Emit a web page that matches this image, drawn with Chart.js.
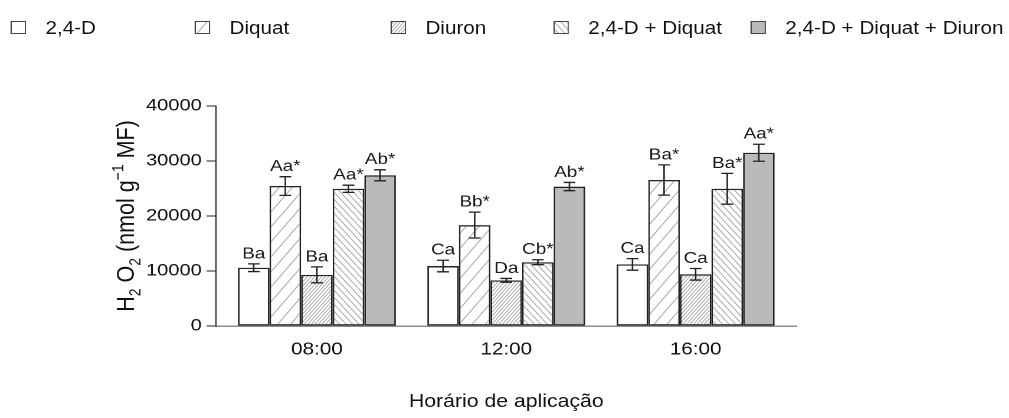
<!DOCTYPE html>
<html>
<head>
<meta charset="utf-8">
<script src="https://cdn.jsdelivr.net/npm/chart.js@4.4.0/dist/chart.umd.min.js"></script>
<style>
body { margin: 0; background: #fff; overflow: hidden; }
#wrap { position: absolute; left: 0; top: 0; width: 855px; height: 418px; transform: scaleX(1.18011); transform-origin: 0 0; font-family: "Liberation Sans", Arial, sans-serif; }
#c { position: absolute; left: 0; top: 0; }
.lg { position: absolute; top: 17px; height: 22px; font-size: 17.5px; line-height: 22px; color: #111; white-space: nowrap; }
.lg canvas { position: absolute; left: 0; top: 4px; width: 13px; height: 13px; }
.lg span { position: absolute; left: 29.5px; top: 0; }
</style>
</head>
<body>
<div id="wrap">
  <div id="legend"></div>
  <canvas id="c" width="855" height="418"></canvas>
</div>
<script>
const times = ['08:00', '12:00', '16:00'];
const treatments = ['2,4-D', 'Diquat', 'Diuron', '2,4-D + Diquat', '2,4-D + Diquat + Diuron'];

// H2O2 means and error bars, one entry per time
const val24D   = [10600, 10900, 11200];
const err24D   = [700, 1050, 1050];
const valDiquat = [25450, 18350, 26550];
const errDiquat = [1700, 2350, 2750];
const valDiuron = [9300, 8300, 9400];
const errDiuron = [1450, 350, 1050];
const valMix2  = [24950, 11600, 24950];
const errMix2  = [650, 450, 2800];
const valMix3  = [27400, 25350, 31500];
const errMix3  = [1000, 750, 1550];

// letters over the bars
const let24D    = ['Ba', 'Ca', 'Ca'];
const letDiquat = ['Aa*', 'Bb*', 'Ba*'];
const letDiuron = ['Ba', 'Da', 'Ca'];
const letMix2   = ['Aa*', 'Cb*', 'Ba*'];
const letMix3   = ['Ab*', 'Ab*', 'Aa*'];

const yTicks = [0, 10000, 20000, 30000, 40000];

const FONT = '"Liberation Sans", Arial, sans-serif';
Chart.defaults.font.family = FONT;

// hatch tiles drawn at 2x, scaled back in the pattern
function hatch(w, h, dir, color, lw) {
  const t = document.createElement('canvas');
  t.width = w * 2; t.height = h * 2;
  const g = t.getContext('2d');
  g.scale(2, 2);
  g.fillStyle = '#fff';
  g.fillRect(0, 0, w, h);
  g.strokeStyle = color;
  g.lineWidth = lw;
  g.beginPath();
  for (const o of [-w, 0, w]) {
    if (dir === '/') { g.moveTo(o, h); g.lineTo(o + w, 0); }
    else { g.moveTo(o, 0); g.lineTo(o + w, h); }
  }
  g.stroke();
  const p = document.createElement('canvas').getContext('2d').createPattern(t, 'repeat');
  p.setTransform(new DOMMatrix().scale(0.5));
  return p;
}

const fills = [
  '#ffffff',
  hatch(11, 15, '/', '#a8a8a8', 0.9),
  hatch(3, 4, '/', '#9a9a9a', 0.7),
  hatch(5.5, 7, '\\', '#a0a0a0', 0.8),
  '#bababa'
];

const vals = [val24D, valDiquat, valDiuron, valMix2, valMix3];
const errs = [err24D, errDiquat, errDiuron, errMix2, errMix3];
const lets = [let24D, letDiquat, letDiuron, letMix2, letMix3];

// legend
const legendX = [9, 165, 331, 469, 636];
const legendEl = document.getElementById('legend');
treatments.forEach((name, i) => {
  const item = document.createElement('div');
  item.className = 'lg';
  item.style.left = legendX[i] + 'px';
  const sw = document.createElement('canvas');
  sw.width = 26; sw.height = 26;
  const g = sw.getContext('2d');
  g.scale(2, 2);
  g.fillStyle = fills[i];
  g.fillRect(0, 0, 13, 13);
  g.strokeStyle = '#444';
  g.lineWidth = 1;
  g.strokeRect(0.5, 0.5, 12, 12);
  const sp = document.createElement('span');
  sp.textContent = name;
  item.appendChild(sw);
  item.appendChild(sp);
  legendEl.appendChild(item);
});

const errorBars = {
  id: 'errorBars',
  afterDatasetsDraw(chart) {
    const ctx = chart.ctx;
    const y = chart.scales.y;
    ctx.save();
    ctx.strokeStyle = '#222';
    ctx.lineWidth = 1.3;
    ctx.fillStyle = '#1a1a1a';
    ctx.font = '16px ' + FONT;
    ctx.textAlign = 'center';
    ctx.textBaseline = 'bottom';
    chart.data.datasets.forEach((ds, di) => {
      chart.getDatasetMeta(di).data.forEach((bar, i) => {
        const v = ds.data[i].y, e = ds.errors[i];
        const top = y.getPixelForValue(v + e);
        const bot = y.getPixelForValue(v - e);
        ctx.beginPath();
        ctx.moveTo(bar.x, top); ctx.lineTo(bar.x, bot);
        ctx.moveTo(bar.x - 5, top); ctx.lineTo(bar.x + 5, top);
        ctx.moveTo(bar.x - 5, bot); ctx.lineTo(bar.x + 5, bot);
        ctx.stroke();
        ctx.fillText(ds.letters[i], bar.x, top - 2);
      });
    });
    ctx.restore();
  }
};

// y title with sub/superscripts
const yTitle = {
  id: 'yTitle',
  afterDraw(chart) {
    const ctx = chart.ctx;
    const a = chart.chartArea;
    const big = 21.5, small = 14;
    const parts = [['H', 0], ['2', 1], [' O', 0], ['2', 1], [' (nmol g', 0], ['\u22121', -1], [' MF)', 0]];
    let total = 0;
    const widths = parts.map(([t, k]) => {
      ctx.font = (k ? small : big) + 'px ' + FONT;
      const w = ctx.measureText(t).width;
      total += w;
      return w;
    });
    ctx.save();
    ctx.translate(106, (a.top + a.bottom) / 2);
    ctx.rotate(-Math.PI / 2);
    ctx.fillStyle = '#111';
    ctx.textBaseline = 'alphabetic';
    ctx.textAlign = 'left';
    let x = -total / 2;
    parts.forEach(([t, k], i) => {
      ctx.font = (k ? small : big) + 'px ' + FONT;
      const base = 0.36 * big + (k === 1 ? 0.25 * big : k === -1 ? -0.42 * big : 0);
      ctx.fillText(t, x, base);
      x += widths[i];
    });
    ctx.restore();
  }
};

new Chart(document.getElementById('c'), {
  type: 'bar',
  data: {
    datasets: treatments.map((name, i) => ({
      label: name,
      data: vals[i].map((v, j) => ({ x: j, y: v })),
      errors: errs[i],
      letters: lets[i],
      backgroundColor: fills[i]
    }))
  },
  options: {
    responsive: false,
    animation: false,
    devicePixelRatio: 2,
    layout: { padding: { left: 0, right: 180, top: 106, bottom: 0 } },
    plugins: { legend: { display: false }, tooltip: { enabled: false } },
    datasets: {
      bar: {
        categoryPercentage: 0.834,
        barPercentage: 1,
        borderColor: '#222',
        borderWidth: 1.4,
        borderSkipped: false
      }
    },
    scales: {
      x: {
        type: 'linear',
        offset: false,
        min: -0.533,
        max: 2.533,
        afterFit(s) { s.height = 92; },
        afterBuildTicks(s) { s.ticks = times.map((t, i) => ({ value: i })); },
        ticks: {
          callback: v => times[v],
          font: { size: 17.5 },
          color: '#111',
          padding: 13,
          autoSkip: false,
          maxRotation: 0
        },
        grid: { display: false, drawTicks: false },
        border: { color: '#8c8c8c', width: 1.5 },
        title: {
          display: true,
          text: 'Horário de aplicação',
          font: { size: 18 },
          color: '#111',
          padding: { top: 0, bottom: 5 }
        }
      },
      y: {
        min: 0,
        max: 40000,
        afterFit(s) { s.width = 183; },
        afterBuildTicks(s) { s.ticks = yTicks.map(v => ({ value: v })); },
        ticks: { font: { size: 17 }, color: '#111', padding: 4, callback: v => String(v) },
        grid: { drawOnChartArea: false, tickLength: 8, color: '#222', lineWidth: 1 },
        border: { color: '#222', width: 1 }
      }
    }
  },
  plugins: [errorBars, yTitle]
});
</script>
</body>
</html>
